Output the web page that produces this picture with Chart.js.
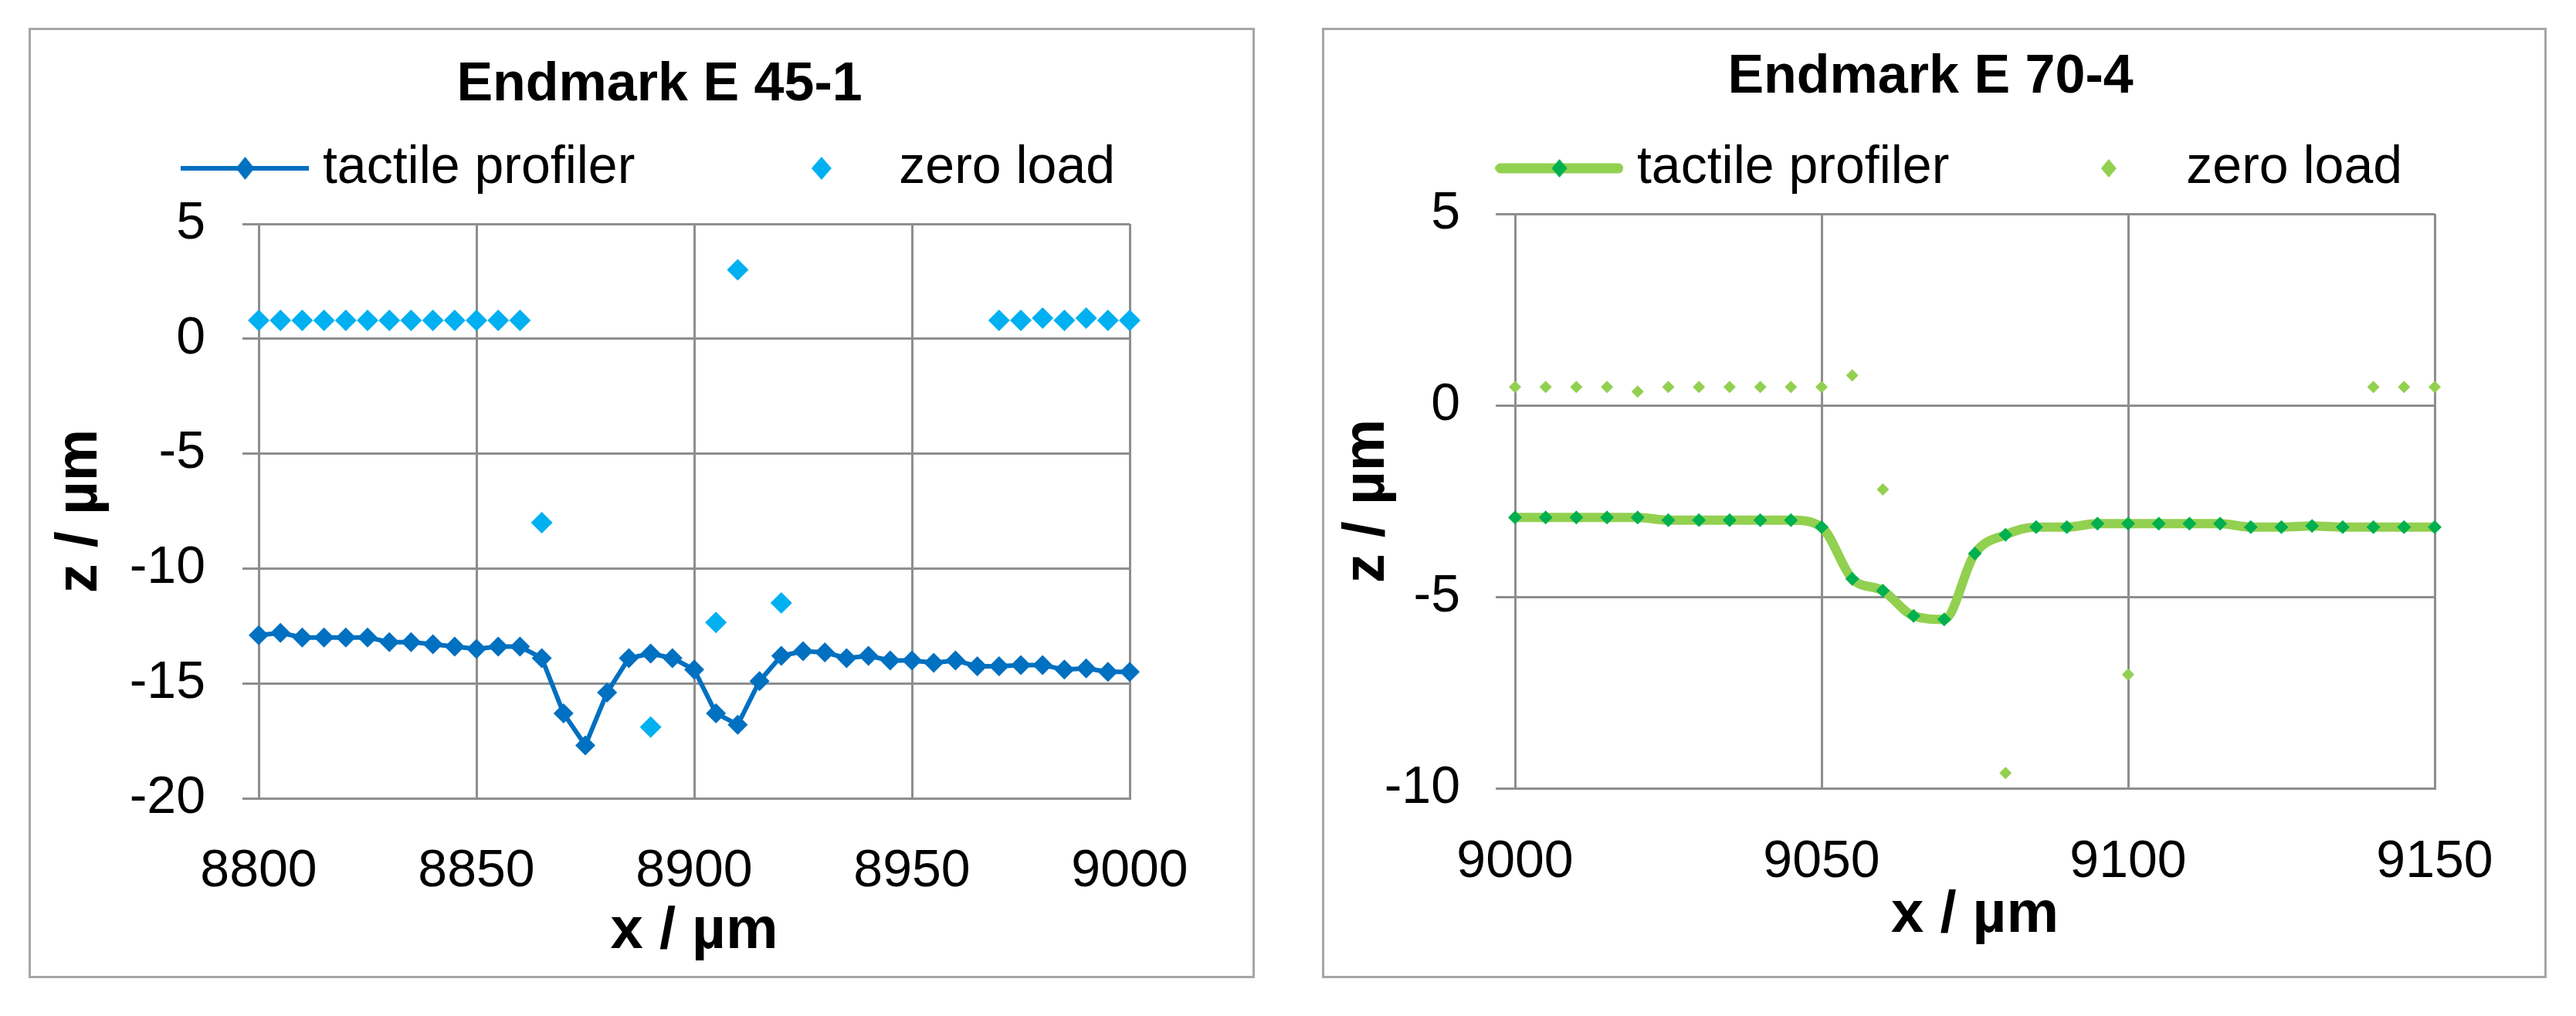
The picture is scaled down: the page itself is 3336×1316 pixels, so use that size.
<!DOCTYPE html>
<html>
<head>
<meta charset="utf-8">
<title>Endmark profiles</title>
<script src="https://cdn.jsdelivr.net/npm/chart.js@4.4.1/dist/chart.umd.min.js"></script>
<style>
  html, body { margin: 0; padding: 0; background: #fff; }
  body { width: 3336px; height: 1316px; position: relative; overflow: hidden; }
  .panel { position: absolute; top: 36px; border: 3px solid #a6a6a6; background: #fff; }
  #panel-left { left: 37px; }
  #panel-right { left: 1712px; }
  canvas { display: block; }
</style>
</head>
<body>
<div class="panel" id="panel-left"><canvas id="chart-left" width="1582" height="1225"></canvas></div>
<div class="panel" id="panel-right"><canvas id="chart-right" width="1580" height="1225"></canvas></div>
<script>
// Endmark E 45-1 (x / µm, z / µm)
const leftX = [8800, 8805, 8810, 8815, 8820, 8825, 8830, 8835, 8840, 8845,
               8850, 8855, 8860, 8865, 8870, 8875, 8880, 8885, 8890, 8895,
               8900, 8905, 8910, 8915, 8920, 8925, 8930, 8935, 8940, 8945,
               8950, 8955, 8960, 8965, 8970, 8975, 8980, 8985, 8990, 8995, 9000];
const leftTactile = [-12.9, -12.8, -13.0, -13.0, -13.0, -13.0, -13.2, -13.2, -13.3, -13.4,
                     -13.5, -13.4, -13.4, -13.9, -16.3, -17.7, -15.4, -13.9, -13.7, -13.9,
                     -14.4, -16.3, -16.8, -14.9, -13.8, -13.6, -13.65, -13.9, -13.8, -14.0,
                     -14.0, -14.1, -14.0, -14.25, -14.25, -14.2, -14.2, -14.4, -14.35, -14.5, -14.5];
const leftZeroX = [8800, 8805, 8810, 8815, 8820, 8825, 8830, 8835, 8840, 8845, 8850, 8855, 8860,
                   8865, 8890, 8905, 8910, 8920,
                   8970, 8975, 8980, 8985, 8990, 8995, 9000];
const leftZero = [0.8, 0.8, 0.8, 0.8, 0.8, 0.8, 0.8, 0.8, 0.8, 0.8, 0.8, 0.8, 0.8,
                  -8.0, -16.9, -12.35, 3.0, -11.5,
                  0.8, 0.8, 0.9, 0.8, 0.9, 0.8, 0.8];

// Endmark E 70-4
const rightX = [9000, 9005, 9010, 9015, 9020, 9025, 9030, 9035, 9040, 9045,
                9050, 9055, 9060, 9065, 9070, 9075, 9080, 9085, 9090, 9095,
                9100, 9105, 9110, 9115, 9120, 9125, 9130, 9135, 9140, 9145, 9150];
const rightTactile = [-2.93, -2.93, -2.93, -2.93, -2.93, -3.0, -3.0, -3.0, -3.0, -3.0,
                      -3.18, -4.53, -4.84, -5.5, -5.59, -3.87, -3.38, -3.18, -3.18, -3.09,
                      -3.09, -3.09, -3.09, -3.09, -3.18, -3.18, -3.15, -3.18, -3.18, -3.18, -3.18];
const rightZeroX = [9000, 9005, 9010, 9015, 9020, 9025, 9030, 9035, 9040, 9045, 9050,
                    9055, 9060, 9080, 9100, 9140, 9145, 9150];
const rightZero = [0.48, 0.48, 0.48, 0.48, 0.36, 0.48, 0.48, 0.48, 0.48, 0.48, 0.48,
                   0.78, -2.2, -9.6, -7.03, 0.48, 0.48, 0.48];

const GRID = '#8e8e8e';
Chart.defaults.font.family = "'Liberation Sans', Arial, sans-serif";
Chart.defaults.color = '#000';

// legend symbol: a short line with the marker in the middle (like Excel)
function legendGlyph(lineColor, lineWidth, cap, markColor, halfW, halfH) {
    const c = document.createElement('canvas');
    c.width = 166;
    c.height = 40;
    const g = c.getContext('2d');
    if (lineWidth > 0) {
        g.strokeStyle = lineColor;
        g.lineWidth = lineWidth;
        g.lineCap = cap;
        const inset = cap === 'round' ? lineWidth / 2 : 0;
        g.beginPath();
        g.moveTo(inset, 20);
        g.lineTo(166 - inset, 20);
        g.stroke();
    }
    g.fillStyle = markColor;
    g.beginPath();
    g.moveTo(83 - halfW, 20);
    g.lineTo(83, 20 - halfH);
    g.lineTo(83 + halfW, 20);
    g.lineTo(83, 20 + halfH);
    g.closePath();
    g.fill();
    return c;
}

// Chart.js centres title and legend on the canvas; move them to where Excel had them
const headerPos = {
    id: 'headerPos',
    afterLayout(chart, args, opts) {
        const title = chart.titleBlock;
        title.left = opts.titleX - 1000;
        title.right = opts.titleX + 1000;
        const legend = chart.legend;
        legend.left = opts.legendX - 1000;
        legend.right = opts.legendX + 1000;
        legend.top = opts.legendY - legend.options.labels.padding;
        legend.bottom = opts.legendY + 100;
    }
};

function profileChart(id, s) {
    const legendItems = [
        { text: 'tactile profiler', pointStyle: s.tactileGlyph, hidden: false, datasetIndex: 0, lineWidth: 0 },
        { text: 'zero load', pointStyle: s.zeroGlyph, hidden: false, datasetIndex: 1, lineWidth: 0 }
    ];
    return new Chart(document.getElementById(id), {
        type: 'scatter',
        data: {
            datasets: [{
                label: 'tactile profiler',
                data: s.x.map((x, i) => ({ x, y: s.tactile[i] })),
                showLine: true,
                borderColor: s.lineColor,
                borderWidth: s.lineWidth,
                cubicInterpolationMode: s.smooth ? 'monotone' : 'default',
                tension: 0,
                pointStyle: 'rectRot',
                pointRadius: s.markRadius,
                pointBackgroundColor: s.markColor,
                pointBorderWidth: 0,
                clip: false
            }, {
                label: 'zero load',
                data: s.zeroX.map((x, i) => ({ x, y: s.zero[i] })),
                showLine: false,
                pointStyle: 'rectRot',
                pointRadius: s.zeroRadius,
                pointBackgroundColor: s.zeroColor,
                pointBorderWidth: 0,
                clip: false
            }]
        },
        plugins: [headerPos],
        options: {
            responsive: false,
            animation: false,
            events: [],
            layout: { padding: 0 },
            plugins: {
                title: {
                    display: true,
                    text: s.title,
                    font: { size: 70, weight: 'bold' },
                    padding: { top: s.titleTop, bottom: 0 }
                },
                legend: {
                    display: true,
                    position: 'top',
                    maxHeight: s.legendHeight,
                    labels: {
                        usePointStyle: true,
                        pointStyleWidth: 133,
                        padding: s.legendGap,
                        font: { size: 68 },
                        generateLabels: () => legendItems
                    }
                },
                tooltip: { enabled: false },
                headerPos: { titleX: s.titleX, legendX: s.legendX, legendY: 145 }
            },
            scales: {
                x: {
                    type: 'linear',
                    min: s.xRange[0],
                    max: s.xRange[1],
                    ticks: { stepSize: 50, padding: s.xTickPad, font: { size: 68 }, callback: v => String(v) },
                    grid: { color: GRID, lineWidth: 3, drawTicks: false },
                    border: { color: GRID, width: 3 },
                    title: {
                        display: true,
                        text: 'x / µm',
                        font: { size: 76, weight: 'bold' },
                        padding: { top: 0, bottom: s.xTitleBottom }
                    },
                    afterFit: axis => { axis.height = s.xAxisHeight; }
                },
                y: {
                    type: 'linear',
                    min: s.yRange[0],
                    max: s.yRange[1],
                    ticks: { stepSize: 5, padding: s.yTickPad, font: { size: 68 }, callback: v => String(v) },
                    grid: { color: GRID, lineWidth: 3, tickLength: s.yTickLength },
                    border: { color: GRID, width: 3 },
                    title: {
                        display: true,
                        text: 'z / µm',
                        font: { size: 76, weight: 'bold' },
                        padding: { top: s.yTitleTop, bottom: 0 }
                    },
                    afterFit: axis => { axis.width = s.yAxisWidth; }
                },
                // empty axis that only keeps the white margin right of the plot
                pad: {
                    type: 'linear',
                    position: 'right',
                    display: true,
                    grid: { display: false },
                    ticks: { display: false },
                    border: { display: false },
                    afterFit: axis => { axis.width = s.rightPad; }
                }
            }
        }
    });
}

profileChart('chart-left', {
    title: 'Endmark E 45-1',
    x: leftX, tactile: leftTactile, zeroX: leftZeroX, zero: leftZero,
    xRange: [8800, 9000], yRange: [-20, 5],
    lineColor: '#0070c0', lineWidth: 6, smooth: false, markColor: '#0070c0', markRadius: 13,
    zeroColor: '#00b0f0', zeroRadius: 14,
    tactileGlyph: legendGlyph('#0070c0', 6, 'butt', '#0070c0', 12, 15),
    zeroGlyph: legendGlyph('#00b0f0', 0, 'butt', '#00b0f0', 13, 15),
    titleTop: 30, titleX: 814, legendX: 807.5, legendGap: 175, legendHeight: 137,
    yAxisWidth: 295, rightPad: 159, xAxisHeight: 230,
    yTickLength: 21, yTickPad: 48, xTickPad: 54, xTitleBottom: 11, yTitleTop: 18
});

profileChart('chart-right', {
    title: 'Endmark E 70-4',
    x: rightX, tactile: rightTactile, zeroX: rightZeroX, zero: rightZero,
    xRange: [9000, 9150], yRange: [-10, 5],
    lineColor: '#92d050', lineWidth: 12, smooth: true, markColor: '#00b050', markRadius: 9,
    zeroColor: '#92d050', zeroRadius: 8,
    tactileGlyph: legendGlyph('#92d050', 13, 'round', '#00b050', 10, 12),
    zeroGlyph: legendGlyph('#92d050', 0, 'butt', '#92d050', 10, 12),
    titleTop: 20, titleX: 785, legendX: 817, legendGap: 140, legendHeight: 134,
    yAxisWidth: 247, rightPad: 142, xAxisHeight: 243,
    yTickLength: 25, yTickPad: 46, xTickPad: 55, xTitleBottom: 32, yTitleTop: 10
});
</script>
</body>
</html>
